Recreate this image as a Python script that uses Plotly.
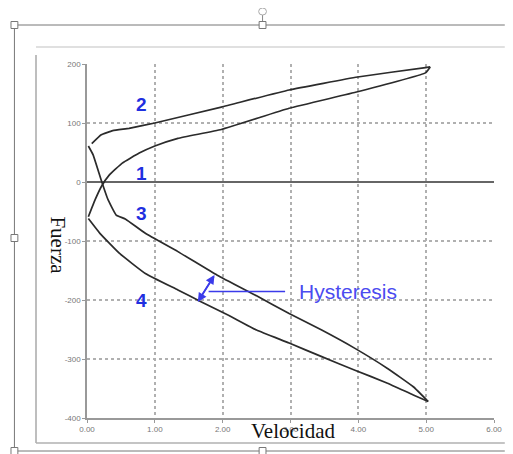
import plotly.graph_objects as go

# ---- data ----
curve2_x = [0.07, 0.21, 0.38, 0.62, 1.0, 1.98, 2.98, 3.99, 4.99, 5.06]
curve2_y = [65, 80, 87, 91, 100, 127, 156, 178, 194, 195]

curve1_x = [5.06, 4.99, 3.99, 2.98, 1.98, 1.34, 1.0, 0.77, 0.52, 0.33, 0.21, 0.12, 0.02]
curve1_y = [195, 185, 153, 125, 89, 74, 61, 49, 32, 12, -8, -30, -59]

curve3_x = [0.02, 0.09, 0.21, 0.31, 0.43, 0.57, 0.86, 1.34, 1.92, 2.5, 2.98, 3.46, 3.95, 4.43, 4.81, 5.03]
curve3_y = [61, 46, 3, -30, -56, -63, -87, -118, -158, -193, -223, -251, -282, -316, -347, -372]

curve4_x = [5.03, 4.81, 4.43, 3.95, 3.46, 2.98, 2.5, 2.07, 1.68, 1.34, 0.86, 0.48, 0.19, 0.02]
curve4_y = [-372, -361, -341, -319, -296, -273, -251, -225, -203, -183, -155, -121, -87, -62]

x_ticks = [0, 1, 2, 3, 4, 5, 6]
x_tick_labels = ["0.00", "1.00", "2.00", "3.00", "4.00", "5.00", "6.00"]
y_ticks = [-400, -300, -200, -100, 0, 100, 200]
y_tick_labels = ["-400", "-300", "-200", "-100", "0", "100", "200"]

curve_labels = ["2", "1", "3", "4"]
curve_label_x = [0.81, 0.81, 0.81, 0.81]
curve_label_y = [131, 15, -53, -200]

# page has an 8px body margin: size figure so it fills the window exactly
OFF = 8
W, H = 513 - OFF, 454 - OFF
L, R, T, B = 87 - OFF, 11, 64 - OFF, 36
PW, PH = W - L - R, H - T - B


def px(x):
    return (x - OFF - L) / PW


def py(y):
    return (H - B - (y - OFF)) / PH


fig = go.Figure()
line_style = dict(color="#2b2b2b", width=1.7, shape="spline", smoothing=0.35)
for cx, cy in [(curve2_x, curve2_y), (curve1_x, curve1_y), (curve3_x, curve3_y), (curve4_x, curve4_y)]:
    fig.add_trace(go.Scatter(x=cx, y=cy, mode="lines", line=line_style,
                             showlegend=False, hoverinfo="skip"))

annotations = []
for t, ax_, ay_ in zip(curve_labels, curve_label_x, curve_label_y):
    annotations.append(dict(x=ax_, y=ay_, xref="x", yref="y", text="<b>%s</b>" % t,
                            showarrow=False, xanchor="center", yanchor="middle",
                            font=dict(family="Liberation Sans, Arial", size=19, color="#1f2fe0")))

annotations.append(dict(x=px(301), y=py(291), xref="paper", yref="paper", text="Hysteresis",
                        showarrow=False, xanchor="left", yanchor="middle",
                        font=dict(family="Liberation Sans, Arial", size=21, color="#4b4bf0")))
# double-headed arrow (pixel offsets)
A = (200, 302)
Bp = (217, 275)
for (x0, y0), (x1, y1) in [(A, Bp), (Bp, A)]:
    annotations.append(dict(x=px(x1), y=py(y1), ax=x0 - x1, ay=y0 - y1, xref="paper", yref="paper",
                            axref="pixel", ayref="pixel", text="", showarrow=True,
                            arrowhead=2, arrowsize=1.2, arrowwidth=1.5, arrowcolor="#3b3bea"))

annotations.append(dict(x=px(57), y=py(245), xref="paper", yref="paper", text="Fuerza",
                        showarrow=False, textangle=90, xanchor="center", yanchor="middle",
                        font=dict(family="Liberation Serif, Times New Roman", size=21, color="#111")))
annotations.append(dict(x=px(297), y=py(431), xref="paper", yref="paper", text="Velocidad",
                        showarrow=False, xanchor="center", yanchor="middle",
                        font=dict(family="Liberation Serif, Times New Roman", size=21, color="#111")))

shapes = []
# hysteresis pointer line
shapes.append(dict(type="line", xref="paper", yref="paper", x0=px(211), y0=py(291.5),
                   x1=px(289), y1=py(291.5), line=dict(color="#3b3bea", width=1.6)))
# inner grey frame of the picture
shapes.append(dict(type="line", xref="paper", yref="paper", x0=px(35), y0=py(47), x1=px(513), y1=py(47),
                   line=dict(color="#d6d6d6", width=1.5)))
shapes.append(dict(type="line", xref="paper", yref="paper", x0=px(35), y0=py(55), x1=px(35), y1=py(443),
                   line=dict(color="#a8a8a8", width=1.5)))
shapes.append(dict(type="line", xref="paper", yref="paper", x0=px(35), y0=py(443), x1=px(513), y1=py(443),
                   line=dict(color="#b0b0b0", width=1.5)))
# outer selection frame
shapes.append(dict(type="line", xref="paper", yref="paper", x0=px(13), y0=py(25), x1=px(513), y1=py(25),
                   line=dict(color="#777", width=1)))
shapes.append(dict(type="line", xref="paper", yref="paper", x0=px(13), y0=py(25), x1=px(13), y1=py(451),
                   line=dict(color="#777", width=1)))
shapes.append(dict(type="line", xref="paper", yref="paper", x0=px(13), y0=py(451), x1=px(513), y1=py(451),
                   line=dict(color="#777", width=1)))
shapes.append(dict(type="line", xref="paper", yref="paper", x0=px(266), y0=py(14), x1=px(266), y1=py(25),
                   line=dict(color="#888", width=1)))
for hx, hy in [(13, 25), (266, 25), (13, 238), (13, 451), (266, 451)]:
    shapes.append(dict(type="rect", xref="paper", yref="paper", x0=px(hx - 3.5), y0=py(hy - 3.5),
                       x1=px(hx + 3.5), y1=py(hy + 3.5), fillcolor="white",
                       line=dict(color="#777", width=1)))
shapes.append(dict(type="circle", xref="paper", yref="paper", x0=px(262), y0=py(8), x1=px(270), y1=py(15),
                   fillcolor="white", line=dict(color="#aaa", width=1)))

fig.update_layout(
    width=W, height=H,
    margin=dict(l=L, r=R, t=T, b=B),
    paper_bgcolor="white", plot_bgcolor="white",
    showlegend=False,
    annotations=annotations,
    shapes=shapes,
    xaxis=dict(range=[0, 6], tickvals=x_ticks, ticktext=x_tick_labels,
               showgrid=True, gridcolor="#b0b0b0", griddash="dot", gridwidth=1.5,
               zeroline=False, showline=True, linecolor="#999", linewidth=1.5,
               ticks="outside", ticklen=3, tickcolor="#999",
               tickfont=dict(family="Liberation Sans, Arial", size=8, color="#777")),
    yaxis=dict(range=[-400, 200], tickvals=y_ticks, ticktext=y_tick_labels,
               showgrid=True, gridcolor="#b0b0b0", griddash="dot", gridwidth=1.5,
               zeroline=True, zerolinecolor="#666", zerolinewidth=1.5,
               showline=True, linecolor="#999", linewidth=1.5,
               ticks="outside", ticklen=3, tickcolor="#999",
               tickfont=dict(family="Liberation Sans, Arial", size=8, color="#777")),
)

fig.write_html("out.html")
